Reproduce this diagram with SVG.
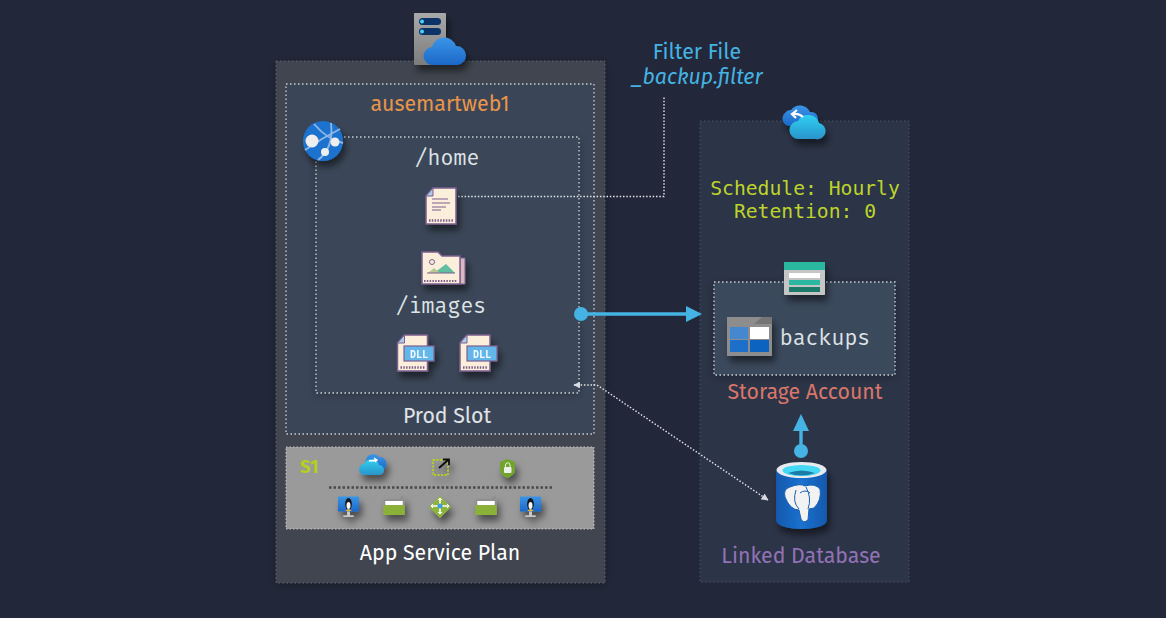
<svg xmlns="http://www.w3.org/2000/svg" width="1166" height="618" viewBox="0 0 1166 618">
<style>
.lbl{font-family:"Fira Sans","Noto Sans","Open Sans",sans-serif;text-anchor:middle;font-size:21.300px}
.mono{font-family:"Fira Code","Fira Mono","DejaVu Sans Mono","Liberation Mono",monospace;text-anchor:middle;font-size:21px;fill:#dfe3e6}
.sched{font-family:"DejaVu Sans Mono","Liberation Mono",monospace;text-anchor:middle;font-size:19.700px;fill:#bcd42b}
.dot{fill:none;stroke:#c9ced4;stroke-width:1.300;stroke-dasharray:1.500 2.500}
.paper{fill:#fbeedb;stroke:#7d5f8f;stroke-width:1.500}
.dll{fill:#62b6ea;stroke:#7d5f8f;stroke-width:1.200}
.dlltxt{font-family:"DejaVu Sans Mono",monospace;font-size:10px;font-weight:bold;fill:#f4fbff;text-anchor:middle}
.conn{fill:none;stroke:#45b3e3;stroke-width:3.400}
.thin{fill:none;stroke:#e4e6e9;stroke-width:1.400;stroke-dasharray:1.500 1.800}
</style>
<defs>
<filter id="sh" x="-50%" y="-50%" width="220%" height="220%"><feDropShadow dx="3" dy="6" stdDeviation="3.500" flood-color="#000" flood-opacity=".5"/></filter>
<filter id="psh" x="-10%" y="-10%" width="120%" height="120%"><feDropShadow dx="0" dy="2" stdDeviation="5" flood-color="#000" flood-opacity=".28"/></filter>
<linearGradient id="blue" x1="0" y1="0" x2="0" y2="1"><stop offset="0" stop-color="#3b95e6"/><stop offset="1" stop-color="#1c68c8"/></linearGradient>
<linearGradient id="cyan" x1="0" y1="0" x2="0" y2="1"><stop offset="0" stop-color="#2fd0f0"/><stop offset="1" stop-color="#2a94cc"/></linearGradient>
<linearGradient id="gray" x1="0" y1="0" x2="0" y2="1"><stop offset="0" stop-color="#a9a9a9"/><stop offset="1" stop-color="#7c7c7c"/></linearGradient>
<linearGradient id="db" x1="0" y1="0" x2="1" y2="0"><stop offset="0" stop-color="#1258ad"/><stop offset=".5" stop-color="#1b72cf"/><stop offset="1" stop-color="#1258ad"/></linearGradient>
<marker id="ah" viewBox="0 0 10 10" refX="9" refY="5" markerWidth="7" markerHeight="7" orient="auto-start-reverse" markerUnits="userSpaceOnUse"><path d="M0 0L10 5L0 10z" fill="#d8dbdf"/></marker>
<g id="pageicon"><path class="paper" d="M7 0H30V36H0V8z"/><path d="M7 0V8H0z" fill="#a9cdea" stroke="#7d5f8f"/><path d="M3 32.500H27" stroke="#7d5f8f" stroke-width="2.400" stroke-dasharray="1.500 1.300"/></g>
<g id="linuxmon"><rect x="-10.500" y="-10.500" width="21" height="15" fill="url(#blue)"/><ellipse cx="0" cy="-3" rx="3.400" ry="6" fill="#16191f"/><ellipse cx="0" cy="-1.500" rx="2" ry="3.500" fill="#f5f5f5"/><path d="M-3.500 4L0 1.800 3.500 4z" fill="#f0b429"/><path d="M-1.500 4.500H1.500V8.500H-1.500zM-5 8.500H5V10H-5z" fill="#c9c9c9"/></g>
<g id="greencard"><path d="M-10.500-8H4.500L8-11.500L10.500-9V8H-10.500z" fill="#8f8f8f"/><rect x="-10.500" y="-1" width="21" height="9" fill="#8cb13a"/><rect x="-8.500" y="-6" width="17" height="4" fill="#fff"/><rect x="-10.500" y="-2" width="21" height="10" fill="#8cb13a" opacity=".9"/><rect x="-8.500" y="-6" width="17" height="3.500" fill="#fff"/></g>
</defs>
<rect width="1166" height="618" fill="#222839"/>

<g id="app-service-plan"><rect x="276" y="61" width="329" height="522" fill="#3f4450" stroke="#5d6270" stroke-dasharray="1.500 2.500" filter="url(#psh)"/><text class="lbl" x="440" y="560" fill="#fff">App Service Plan</text></g>
<g id="prod-slot"><rect class="dot" x="286" y="84" width="308" height="350" style="fill:#3a4658"/><text class="lbl" x="440" y="111" fill="#e8954a">ausemartweb1</text><text class="lbl" x="447" y="423" fill="#e0e3e6">Prod Slot</text></g>
<g id="home"><rect class="dot" x="316" y="137" width="263" height="256" style="fill:#3a4658" filter="url(#psh)"/><text class="mono" x="447" y="165">/home</text><text class="mono" x="441" y="313">/images</text></g>
<g id="s1-plan"><rect x="286" y="447" width="308" height="82" fill="#9a9a9a" stroke="#c4c4c4" stroke-dasharray="1.500 2"/><text x="300" y="473" font-family="Fira Sans,Noto Sans,sans-serif" font-weight="bold" font-size="18.500" fill="#b4cf1e">S1</text><path d="M329 487.500H552" stroke="#4a4a4a" stroke-width="2.500" stroke-dasharray="2.500 2"/></g>
<g id="backup-panel"><rect x="700" y="121" width="209" height="461" fill="#2c3447" stroke="#4a5262" stroke-dasharray="1.500 2.500"/><text class="sched" x="805" y="195">Schedule: Hourly</text><text class="sched" x="805" y="218">Retention: 0</text></g>
<g id="backups"><rect class="dot" x="714" y="282" width="181" height="93" style="fill:#3a485b" filter="url(#psh)"/><text class="mono" x="825" y="345">backups</text></g>
<text class="lbl" x="805" y="399" fill="#d9766a">Storage Account</text>
<text class="lbl" x="801" y="563" fill="#9272b5">Linked Database</text>
<g id="filter-file"><text class="lbl" x="697" y="59" fill="#45b3e3">Filter File</text><text class="lbl" x="697" y="84" font-style="italic" fill="#45b3e3">_backup.filter</text></g>

<g id="connectors">
<path class="thin" d="M458 196.500H664V97"/>
<path class="thin" d="M574 385H597L768 500" marker-start="url(#ah)" marker-end="url(#ah)"/>
<circle cx="581" cy="314" r="7" fill="#45b3e3"/><path class="conn" d="M581 314H692"/><path d="M686 306L702 314L686 322z" fill="#45b3e3"/>
<circle cx="801" cy="451" r="7" fill="#45b3e3"/><path class="conn" d="M801 451V425"/><path d="M793 431L801 414L809 431z" fill="#45b3e3"/>
</g>

<g id="server-cloud" filter="url(#sh)"><rect x="414" y="13" width="32" height="52" rx="1" fill="url(#gray)"/><rect x="419" y="18" width="22" height="7" rx="3.500" fill="#0a3068"/><rect x="419" y="28" width="22" height="7" rx="3.500" fill="#0a3068"/><circle cx="422" cy="21.500" r="2" fill="#45d4f5"/><circle cx="422" cy="31.500" r="2" fill="#45d4f5"/><path d="M433 65a9 9 0 0 1-1-18 12.500 12.500 0 0 1 24-1 9.500 9.500 0 0 1 1 19z" fill="url(#blue)"/></g>
<g id="web-app" filter="url(#sh)"><circle cx="323" cy="141" r="20" fill="#1f72cf"/><path d="M314 124Q328 140 343 143M305 150Q322 138 340 129M318 160Q334 148 331 123" stroke="#8fb8e6" stroke-width="1.800" fill="none"/><circle cx="312" cy="141" r="6.500" fill="#eee"/><circle cx="335" cy="142" r="4.500" fill="#eee"/><circle cx="325" cy="152" r="4" fill="#eee"/></g>
<g id="filter-doc" filter="url(#sh)"><use href="#pageicon" x="426" y="188"/><path d="M432 199H448M432 203H450M432 207H446M432 210H441" stroke="#7d5f8f" stroke-width="1.200"/></g>
<g id="images-folder" filter="url(#sh)"><path d="M460 258H465V284H460z" fill="#d9b7c5" stroke="#7d5f8f"/><path class="paper" d="M422 252H438L442 256H460V284H422z"/><circle cx="432" cy="262" r="2.500" fill="none" stroke="#7d5f8f"/><path d="M434 273L446 264 455 273z" fill="#5fbf9f"/><path d="M428 273L434 268 440 273z" fill="#b9c98f"/><path d="M427 273H455" stroke="#7d5f8f"/><path d="M424 281H457" stroke="#7d5f8f" stroke-width="2.200" stroke-dasharray="1.500 1.300"/></g>
<g id="dll-1" filter="url(#sh)"><use href="#pageicon" x="397.500" y="335"/><rect class="dll" x="404" y="346" width="30" height="15"/><text class="dlltxt" x="419" y="357.500">DLL</text></g>
<g id="dll-2" filter="url(#sh)"><use href="#pageicon" x="460" y="335"/><rect class="dll" x="467" y="346" width="30" height="15"/><text class="dlltxt" x="482" y="357.500">DLL</text></g>
<g id="s1-backup-icon" filter="url(#sh)"><path d="M366 464a7.500 7.500 0 0 1 13-7 7 7 0 0 1 4 13h-14z" fill="url(#blue)"/><path d="M365 475a5.500 5.500 0 0 1-1-11 8 8 0 0 1 15 1 5 5 0 0 1 0 10z" fill="url(#cyan)"/><path d="M369 461L377 460M374 458L377 460 375 462" stroke="#fff" stroke-width="1.400" fill="none"/></g>
<g id="s1-scale-icon" filter="url(#sh)"><rect x="433" y="460" width="15" height="15" fill="none" stroke="#b4cf1e" stroke-width="1.800" stroke-dasharray="2 1.500"/><path d="M439 468L448 460M443 459.500H449V465" stroke="#111" stroke-width="1.800" fill="none"/></g>
<g id="s1-lock-icon" filter="url(#sh)"><path d="M507.500 459L515 462V471Q514 475 507.500 478Q501 475 500 471V462z" fill="#6fa52a"/><rect x="504" y="467" width="7.500" height="6" rx="1" fill="#eee"/><path d="M505.500 467V465a2.200 2.200 0 0 1 4.500 0V467" stroke="#eee" fill="none"/></g>
<g id="vm-1" filter="url(#sh)"><use href="#linuxmon" x="348.500" y="507"/></g>
<g id="card-1" filter="url(#sh)"><use href="#greencard" x="394" y="507"/></g>
<g id="balancer" filter="url(#sh)"><path d="M440 496L451 507L440 518L429 507z" fill="#8db53b"/><path d="M432 506H448M440 498V514" stroke="#fff" stroke-width="1.600"/><path d="M433 504L431 506 433 508M447 504L449 506 447 508M438 500L440 498 442 500M438 512L440 514 442 512" stroke="#fff" fill="none"/><circle cx="440" cy="506" r="2.500" fill="#3f9be0"/></g>
<g id="card-2" filter="url(#sh)"><use href="#greencard" x="486" y="507"/></g>
<g id="vm-2" filter="url(#sh)"><use href="#linuxmon" x="530.500" y="507"/></g>
<g id="backup-cloud" filter="url(#sh)"><path d="M789 126a7.500 7.500 0 0 1-4-13 7 7 0 0 1 6-3 11 11 0 0 1 19 2 7 7 0 0 1 2 14z" fill="url(#blue)"/><path d="M800 139a9 9 0 0 1-1-18 11.500 11.500 0 0 1 21 2 8 8 0 0 1-3 16z" fill="url(#cyan)" transform="translate(-1 0)"/><path d="M803 117Q799 113 793 114M797 110L792 114 796 118" stroke="#fff" stroke-width="2.200" fill="none"/></g>
<g id="storage-icon" filter="url(#sh)"><rect x="784" y="262" width="41" height="33" rx="1" fill="#c5c5c5"/><rect x="784" y="262" width="41" height="8" fill="#2cb8a0"/><rect x="789" y="273" width="31" height="5" fill="#fff"/><rect x="789" y="280" width="31" height="5" fill="#2cb8a0"/><rect x="789" y="287" width="31" height="5" fill="#1d7a6a"/></g>
<g id="container-icon" filter="url(#sh)"><rect x="727" y="317" width="45" height="39" fill="#8d8d8d"/><path d="M762 317H772V324H754z" fill="#757575"/><rect x="730" y="327" width="18" height="12" fill="#4588d0"/><rect x="750" y="327" width="19" height="12" fill="#fff"/><rect x="730" y="340" width="18" height="12" fill="#1e6fca"/><rect x="750" y="340" width="19" height="12" fill="#0f63c0"/></g>
<g id="postgres-icon" filter="url(#sh)"><path d="M776 470V520C776 532 827 532 827 520V470z" fill="url(#db)"/><ellipse cx="801.500" cy="470" rx="25" ry="8" fill="#e7eaee"/><ellipse cx="801.500" cy="470.500" rx="19" ry="5.500" fill="#45d9f5"/><path d="M788 473Q801.500 468 815 473Q801.500 478 788 473z" fill="#1f7ca8"/><path d="M790 487Q800 483 805 486Q815 483 820 489Q822 500 814 508L809 509L808 520Q803 524 801 519L799 510Q790 510 785 497Q783 489 790 487z" fill="#f2f2f2" stroke="#1b5fb0" stroke-width="1"/><path d="M796 490Q792 502 799 509M806 487Q812 498 808 509M800 493Q805 489 810 493" stroke="#1b5fb0" fill="none"/></g>
</svg>
